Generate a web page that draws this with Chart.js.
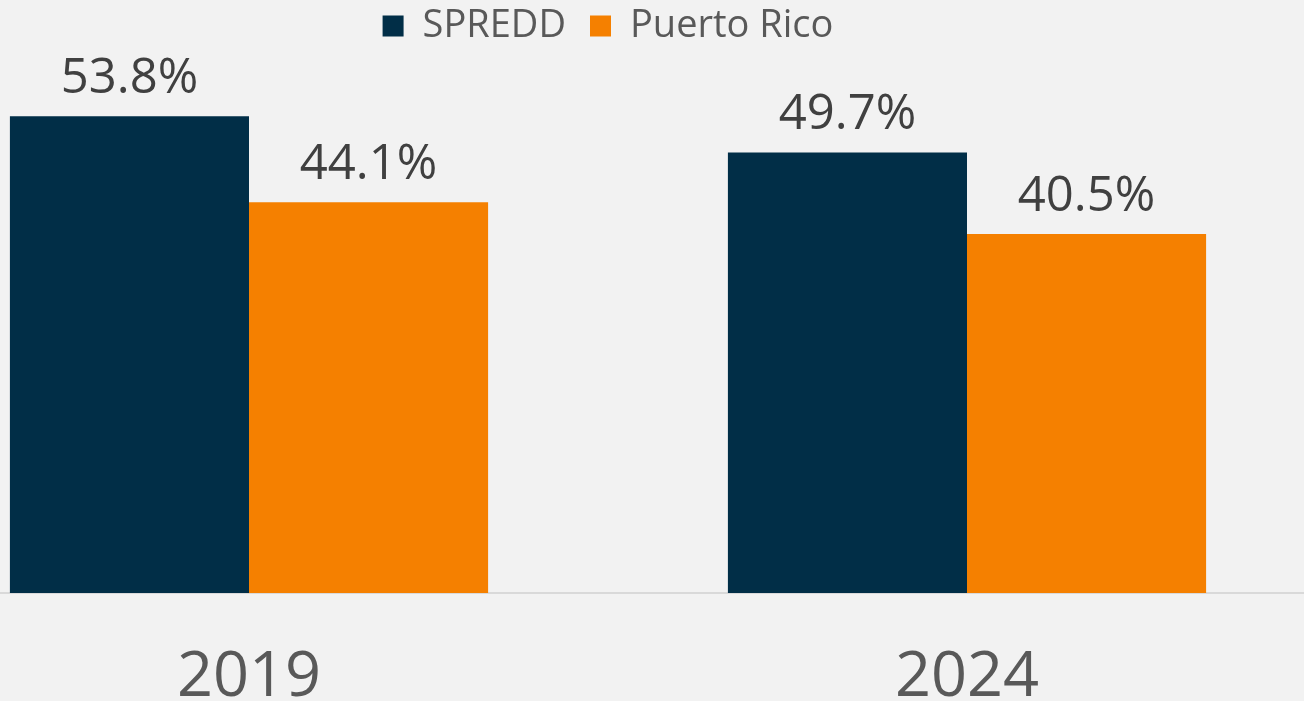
<!DOCTYPE html>
<html>
<head>
<meta charset="utf-8">
<script src="https://cdn.jsdelivr.net/npm/chart.js@4.4.0/dist/chart.umd.min.js"></script>
<style>
  html, body { margin: 0; padding: 0; background: #f2f2f2; overflow: hidden; }
  #wrap { position: absolute; left: -110px; top: 0; width: 1436px; height: 701px; }
</style>
</head>
<body>
<div id="wrap"><canvas id="chart"></canvas></div>
<script>
// Données
const categories = ['2019', '2024'];
const spreddValues = [53.8, 49.7];
const puertoRicoValues = [44.1, 40.5];
const seriesNames = ['SPREDD', 'Puerto Rico'];

const FONT = '"Open Sans", "DejaVu Sans", sans-serif';

// Étiquettes de valeur au-dessus des barres
const valueLabels = {
    id: 'valueLabels',
    afterDatasetsDraw(chart) {
        const ctx = chart.ctx;
        ctx.save();
        ctx.font = '49px ' + FONT;
        ctx.fillStyle = '#404040';
        ctx.textAlign = 'center';
        ctx.textBaseline = 'alphabetic';
        chart.data.datasets.forEach((ds, i) => {
            chart.getDatasetMeta(i).data.forEach((bar, j) => {
                ctx.fillText(ds.data[j].toFixed(1) + '%', bar.x, bar.y - 23);
            });
        });
        ctx.restore();
    },
};

new Chart(document.getElementById('chart'), {
    type: 'bar',
    data: {
        labels: categories,
        datasets: [
            { label: seriesNames[0], data: spreddValues, backgroundColor: '#012e47' },
            { label: seriesNames[1], data: puertoRicoValues, backgroundColor: '#f58000' },
        ],
    },
    options: {
        responsive: true,
        maintainAspectRatio: false,
        animation: false,
        categoryPercentage: 0.666,
        barPercentage: 1,
        layout: { padding: { top: -17 } },
        plugins: {
            tooltip: { enabled: false },
            legend: {
                position: 'top',
                labels: {
                    color: '#595959',
                    font: { family: FONT, size: 38 },
                    boxWidth: 21,
                    boxHeight: 21,
                    padding: 24,
                },
            },
        },
        scales: {
            x: {
                grid: { display: false },
                border: { color: '#d9d9d9', width: 2 },
                ticks: { color: '#595959', font: { family: FONT, size: 63 }, padding: 39 },
                afterFit: s => { s.height = 108; },
            },
            y: {
                display: false,
                min: 0,
                max: 60.7,
            },
        },
    },
    plugins: [valueLabels],
});
</script>
</body>
</html>
